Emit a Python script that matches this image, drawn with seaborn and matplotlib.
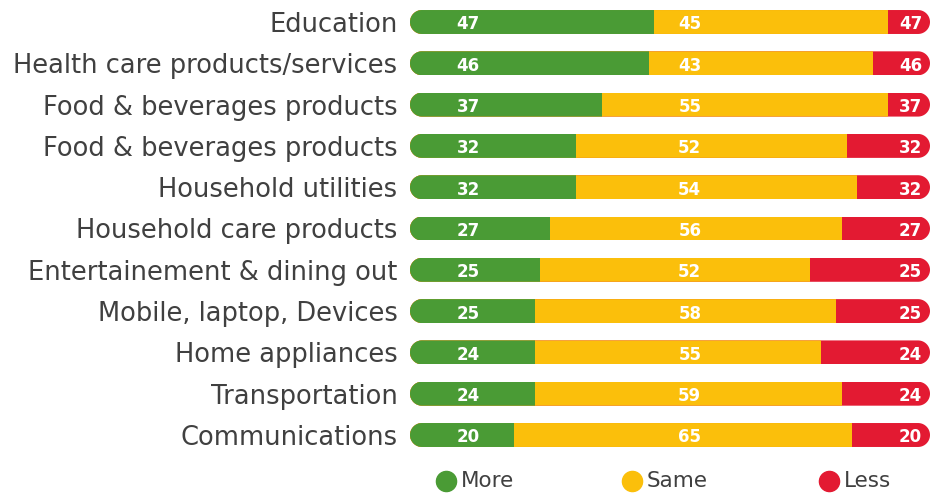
import matplotlib
matplotlib.use("Agg")
import matplotlib.pyplot as plt
import seaborn as sns
import pandas as pd
import numpy as np
from matplotlib.patches import Polygon
from matplotlib.lines import Line2D

categories = [
    "Education",
    "Health care products/services",
    "Food & beverages products",
    "Food & beverages products",
    "Household utilities",
    "Household care products",
    "Entertainement & dining out",
    "Mobile, laptop, Devices",
    "Home appliances",
    "Transportation",
    "Communications",
]
more = [47, 46, 37, 32, 32, 27, 25, 24, 24, 24, 20]
same = [45, 43, 55, 52, 54, 56, 52, 58, 55, 59, 65]
less = [8, 11, 8, 16, 14, 17, 23, 18, 21, 17, 15]
more_labels = ["47", "46", "37", "32", "32", "27", "25", "25", "24", "24", "20"]
same_labels = ["45", "43", "55", "52", "54", "56", "52", "58", "55", "59", "65"]
less_labels = ["47", "46", "37", "32", "32", "27", "25", "25", "24", "24", "20"]
series_names = ["More", "Same", "Less"]

GREEN = "#4a9b35"
YELLOW = "#fbbf0b"
RED = "#e31a32"
TEXT = "#404040"

sns.set_theme(style="white")
plt.rcParams["font.family"] = ["DejaVu Sans"]

row_ids = [f"r{i}" for i in range(len(categories))]
df = pd.DataFrame({"row": row_ids, "category": categories,
                   "more": more, "same": same, "less": less})
df["c_more"] = df["more"]
df["c_same"] = df["more"] + df["same"]
df["c_total"] = df["more"] + df["same"] + df["less"]

W, H = 930, 495
fig = plt.figure(figsize=(W / 100, H / 100), dpi=100)
ax_left = 410 / W
ax_w = 520 / W
row_px = 41.3
ax_top_px = 22 - row_px / 2
ax_h_px = row_px * len(categories)
ax = fig.add_axes([ax_left, 1 - (ax_top_px + ax_h_px) / H, ax_w, ax_h_px / H])

bar_h = 0.58
order = row_ids
sns.barplot(data=df, y="row", x="c_total", order=order, color=RED, width=bar_h,
            saturation=1, ax=ax, edgecolor="none", linewidth=0)
sns.barplot(data=df, y="row", x="c_same", order=order, color=YELLOW, width=bar_h,
            saturation=1, ax=ax, edgecolor="none", linewidth=0)
sns.barplot(data=df, y="row", x="c_more", order=order, color=GREEN, width=bar_h,
            saturation=1, ax=ax, edgecolor="none", linewidth=0)

ax.set_xlim(0, 100)
ax.set_ylim(len(categories) - 0.5, -0.5)
ax.set_yticks(range(len(categories)))
ax.set_yticklabels(categories)

# rounded ends: clip each bar to a stadium shape spanning the full row
px_per_x = 520 / 100
radius_px = 12
rx = radius_px / px_per_x
theta_r = np.linspace(-np.pi / 2, np.pi / 2, 40)
theta_l = np.linspace(np.pi / 2, 3 * np.pi / 2, 40)
bars = list(ax.patches)
for p in bars:
    y0 = p.get_y()
    h = p.get_height()
    yc = y0 + h / 2
    i = int(round(yc))
    total = df["c_total"].iloc[i]
    ry = h / 2
    right = np.column_stack([total - rx + rx * np.cos(theta_r), yc + ry * np.sin(theta_r)])
    left = np.column_stack([rx + rx * np.cos(theta_l), yc + ry * np.sin(theta_l)])
    clip = Polygon(np.vstack([right, left]), closed=True, transform=ax.transData)
    p.set_clip_path(clip)

lab_font = dict(color="white", fontsize=12, fontweight="bold", family=["DejaVu Sans"])
for i in range(len(categories)):
    ty = i + 0.06
    ax.text(11.2, ty, more_labels[i], ha="center", va="center", **lab_font)
    ax.text(53.8, ty, same_labels[i], ha="center", va="center", **lab_font)
    ax.text(98.5, ty, less_labels[i], ha="right", va="center", **lab_font)

ax.set_xlabel("")
ax.set_ylabel("")
ax.set_xticks([])
ax.tick_params(axis="y", length=0, pad=9, labelsize=18.5, labelcolor=TEXT)
sns.despine(ax=ax, left=True, bottom=True)

# legend
leg_y = 1 - 481 / H
leg_items = [(446, GREEN), (632, YELLOW), (829, RED)]
for (x, c), name in zip(leg_items, series_names):
    fig.add_artist(Line2D([x / W], [leg_y], marker="o", markersize=14.5, color=c,
                          linestyle="none", transform=fig.transFigure))
    fig.text((x + 15) / W, leg_y, name, ha="left", va="center", fontsize=15.5, color=TEXT)

fig.savefig("out.png", dpi=100)
